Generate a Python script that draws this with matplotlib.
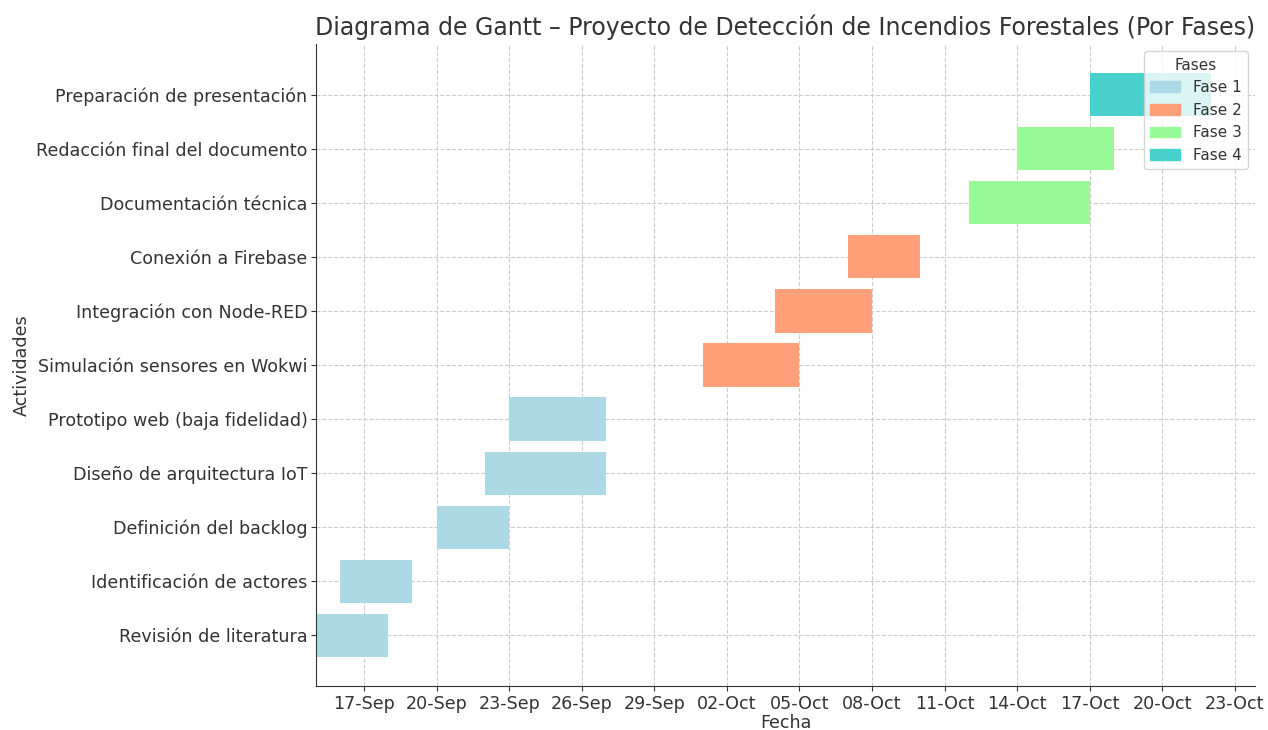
import matplotlib
matplotlib.use("Agg")
import matplotlib.pyplot as plt
import matplotlib.dates as mdates
from matplotlib.patches import Patch
import pandas as pd

plt.rcParams['font.family'] = ['DejaVu Sans']
plt.rcParams['text.color'] = '#333333'
plt.rcParams['axes.labelcolor'] = '#333333'
plt.rcParams['xtick.color'] = '#333333'
plt.rcParams['ytick.color'] = '#333333'
plt.rcParams['axes.edgecolor'] = '#333333'

tareas = [
    "Revisión de literatura",
    "Identificación de actores",
    "Definición del backlog",
    "Diseño de arquitectura IoT",
    "Prototipo web (baja fidelidad)",
    "Simulación sensores en Wokwi",
    "Integración con Node-RED",
    "Conexión a Firebase",
    "Documentación técnica",
    "Redacción final del documento",
    "Preparación de presentación",
]
inicio = ["2025-09-15", "2025-09-16", "2025-09-20", "2025-09-22", "2025-09-23",
          "2025-10-01", "2025-10-04", "2025-10-07", "2025-10-12", "2025-10-14",
          "2025-10-17"]
fin = ["2025-09-18", "2025-09-19", "2025-09-23", "2025-09-27", "2025-09-27",
       "2025-10-05", "2025-10-08", "2025-10-10", "2025-10-17", "2025-10-18",
       "2025-10-22"]
fase = [1, 1, 1, 1, 1, 2, 2, 2, 3, 3, 4]
colores = {1: "#ADD8E6", 2: "#FFA07A", 3: "#98FB98", 4: "#48D1CC"}

ini = mdates.date2num(pd.to_datetime(inicio))
dur = mdates.date2num(pd.to_datetime(fin)) - ini

fig, ax = plt.subplots(figsize=(12.68, 7.3), dpi=100)
fig.subplots_adjust(left=0.249, right=0.99, top=0.94, bottom=0.06)

ax.barh(tareas, dur, left=ini, height=0.8, color=[colores[f] for f in fase])

ticks = mdates.date2num(pd.date_range("2025-09-17", "2025-10-23", freq="3D"))
ax.set_xticks(ticks)
ax.xaxis.set_major_formatter(mdates.DateFormatter("%d-%b"))
ax.tick_params(labelsize=12.6, pad=2.5)

ax.grid(True, linestyle="--", color="#cccccc", linewidth=0.8)
ax.set_axisbelow(True)
for s in ["top", "right"]:
    ax.spines[s].set_visible(False)

ax.set_xlabel("Fecha", fontsize=12.6, labelpad=1)
ax.set_ylabel("Actividades", fontsize=12.6, labelpad=4)
ax.set_title("Diagrama de Gantt – Proyecto de Detección de Incendios Forestales (Por Fases)",
             fontsize=17)

handles = [Patch(color=colores[k], label=f"Fase {k}") for k in colores]
ax.legend(handles=handles, title="Fases", loc="upper right", fontsize=11, title_fontsize=11)

fig.savefig("out.png")
